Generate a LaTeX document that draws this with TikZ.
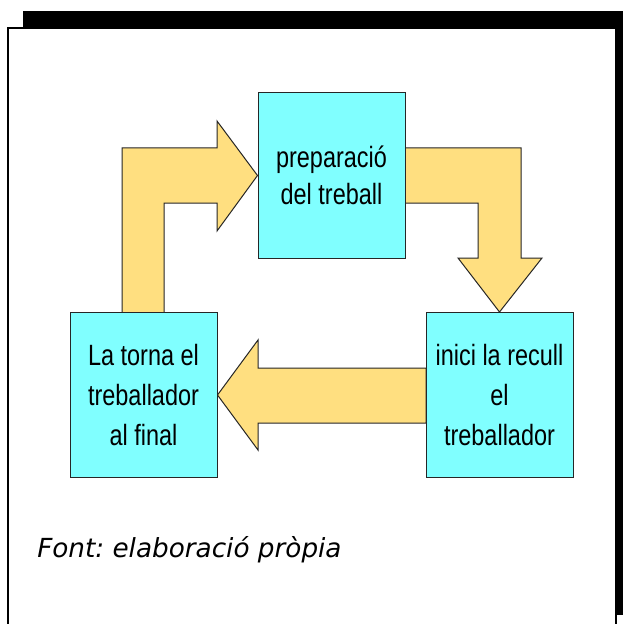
\documentclass[tikz,border=0pt]{standalone}
\usepackage{fontspec}
\usepackage{xcolor}
\usepackage{tikz}
\usetikzlibrary{positioning,backgrounds}
\newfontfamily\boxfont[FakeStretch=0.8]{Liberation Sans}
\newfontfamily\notefont{DejaVu Sans}
\definecolor{boxcyan}{HTML}{80FFFF}
\definecolor{arrowyellow}{HTML}{FFDF80}
\tikzset{
  stagebox/.style={draw=black!85,fill=boxcyan,line width=0.75pt,inner sep=0pt,
    minimum width=110.25pt,minimum height=123.75pt,align=center,
    font=\boxfont\fontsize{22}{30}\selectfont},
  blockarrow/.style={draw=black!85,fill=arrowyellow,line width=0.75pt,line join=miter}
}
\begin{document}
\frenchspacing
\begin{tikzpicture}[x=0.75pt,y=-0.75pt]
        \useasboundingbox (0,0) rectangle (623,624);
        \node [stagebox,font=\boxfont\fontsize{22}{27.75}\selectfont] (prep) at (331.5,175.5) {preparació\\del treball};
        \node [stagebox] (torna) at (143.5,395) {La torna el\\treballador\\al final};
        \node [stagebox] (inici) at (499.5,395) {inici la recull\\el\\treballador};
        \begin{scope}[on background layer]
        % frame with shadow
        \fill [black] (23,11) rectangle (660,615);
        \draw [line width=1.9pt,fill=white] (8,28) rectangle (616,660);
        \draw [blockarrow] (122,313) -- (122,148) -- (217,148) -- (217,121) -- (prep.west)
            -- (217,231) -- (217,203) -- (164,203) -- (164,313) -- cycle;
        \draw [blockarrow] (405,148) -- (521,148) -- (521,258) -- (542,258) -- (inici.north)
            -- (458,258) -- (478,258) -- (478,203) -- (405,203) -- cycle;
        \draw [blockarrow] (426,368) -- (258,368) -- (258,340) -- (torna.east)
            -- (258,450) -- (258,423) -- (426,423) -- cycle;
        \end{scope}
        \node [anchor=base west,inner sep=0pt,font=\notefont\itshape\fontsize{19.7}{24}\selectfont] (font) at (37,557) {Font: elaboració pròpia};
\end{tikzpicture}
\end{document}
